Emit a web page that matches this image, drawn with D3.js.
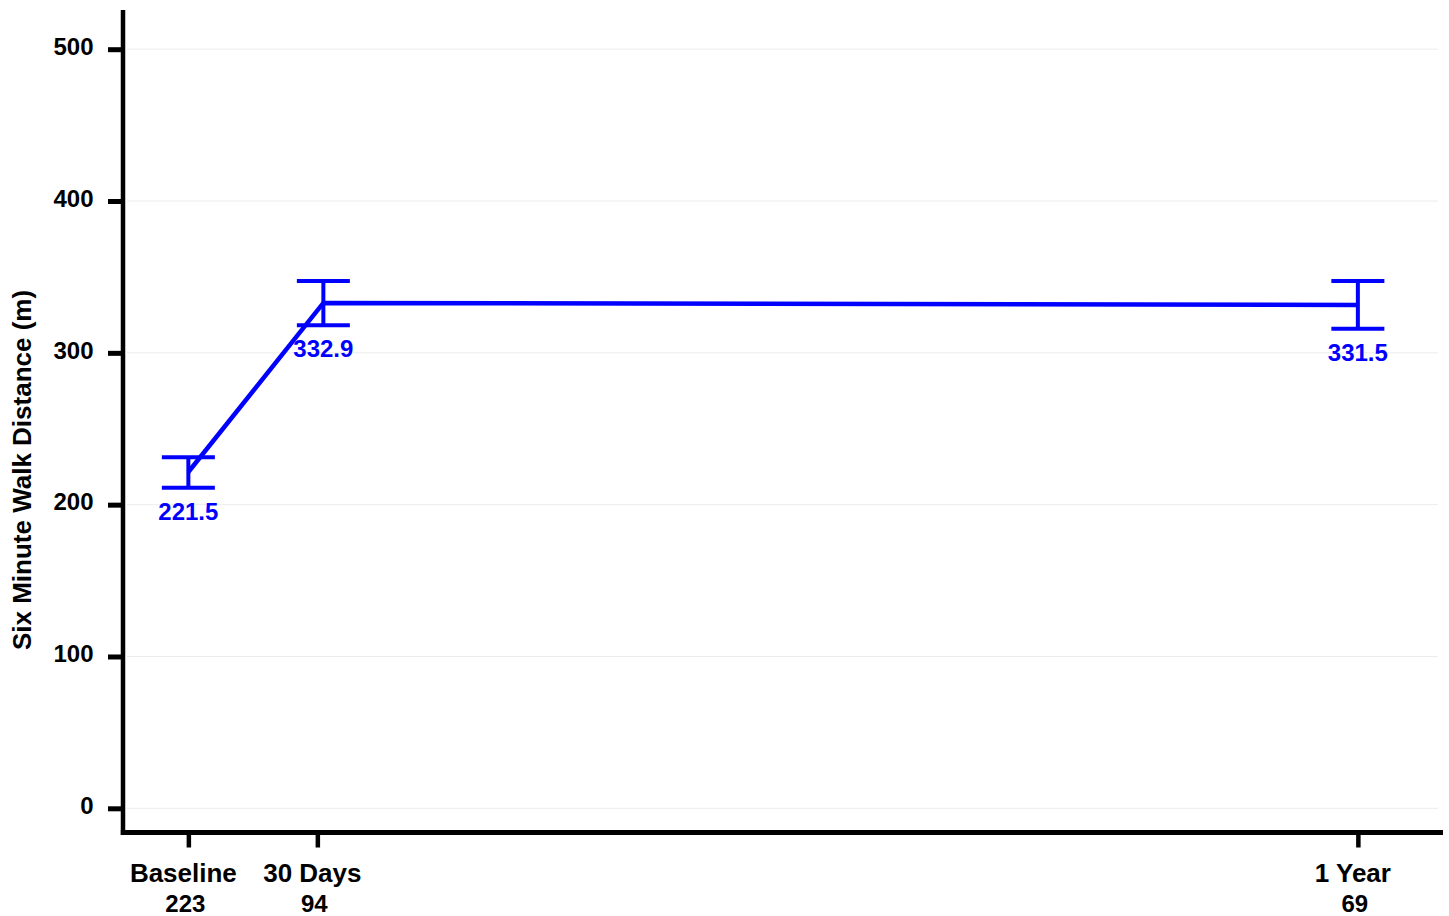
<!DOCTYPE html>
<html>
<head>
<meta charset="utf-8">
<script src="https://cdn.jsdelivr.net/npm/d3@7"></script>
<style>
  html, body { margin: 0; padding: 0; background: #fff; }
  svg { display: block; font-family: "Liberation Sans", Arial, sans-serif; font-weight: bold; }
</style>
</head>
<body>
<svg id="chart" width="1449" height="916"></svg>
<script>
// ---- data ----
const timepoints = ["Baseline", "30 Days", "1 Year"];
const counts = ["223", "94", "69"];
const tickDays = [0, 30, 272];          // plotted axis position of each time point
const pointDays = [0, 31.4, 272];       // plotted position of each mean
const means = [221.5, 332.9, 331.5];
const upper = [231.2, 347.4, 347.4];
const lower = [211.1, 318.2, 315.8];
const meanLabels = ["221.5", "332.9", "331.5"];
const yTicks = [0, 100, 200, 300, 400, 500];

// ---- layout ----
const svg = d3.select("#chart");
const axisX = 123, axisY = 832.5, plotRight = 1443, plotTop = 10;
const x = d3.scaleLinear().domain([-15.2, 291.8]).range([axisX, plotRight]);
const y = d3.scaleLinear().domain([0, 500]).range([808.3, 49.2]);
const blue = "#0000ff";

// gridlines
svg.append("g").selectAll("line").data(yTicks).join("line")
  .attr("x1", 127).attr("x2", 1438)
  .attr("y1", d => y(d)).attr("y2", d => y(d))
  .attr("stroke", "#ececec").attr("stroke-width", 1);

// y axis
const yAxis = svg.append("g").attr("transform", `translate(${axisX},0)`)
  .call(d3.axisLeft(y).tickValues(yTicks).tickSize(15).tickSizeOuter(0).tickPadding(14));
yAxis.select(".domain").remove();
yAxis.selectAll(".tick line").attr("stroke", "#000").attr("stroke-width", 5);
yAxis.selectAll(".tick text").attr("font-size", 24).attr("font-weight", "bold")
  .attr("fill", "#000").attr("font-family", "Liberation Sans, Arial, sans-serif")
  .attr("dy", "0.22em").attr("x", -29.5);
svg.append("line").attr("x1", axisX).attr("x2", axisX).attr("y1", plotTop).attr("y2", axisY + 2.5)
  .attr("stroke", "#000").attr("stroke-width", 4.5);

// x axis
const xAxis = svg.append("g").attr("transform", `translate(0,${axisY})`)
  .call(d3.axisBottom(x).tickValues(tickDays).tickSize(15).tickSizeOuter(0).tickFormat(() => ""));
xAxis.select(".domain").remove();
xAxis.selectAll(".tick line").attr("stroke", "#000").attr("stroke-width", 4.5);
svg.append("line").attr("x1", axisX - 2.2).attr("x2", plotRight).attr("y1", axisY).attr("y2", axisY)
  .attr("stroke", "#000").attr("stroke-width", 5);

// x tick labels (two lines)
const xl = svg.append("g").selectAll("text").data(timepoints).join("text")
  .attr("text-anchor", "middle").attr("fill", "#000");
xl.append("tspan").attr("font-size", 26).attr("x", (d, i) => x(tickDays[i]) - 5).attr("y", 882).text(d => d);
xl.append("tspan").attr("font-size", 24).attr("x", (d, i) => x(tickDays[i]) - 3).attr("y", 912).text((d, i) => counts[i]);

// y axis title
svg.append("text")
  .attr("transform", "translate(31,470) rotate(-90)")
  .attr("text-anchor", "middle").attr("font-size", 26).attr("fill", "#000")
  .text("Six Minute Walk Distance (m)");

// connecting line
const line = d3.line().x((d, i) => x(pointDays[i])).y(d => y(d));
svg.append("path").attr("d", line(means)).attr("fill", "none")
  .attr("stroke", blue).attr("stroke-width", 4.5);

// error bars
const eb = svg.append("g").selectAll("g").data(means).join("g");
eb.append("line")
  .attr("x1", (d, i) => x(pointDays[i])).attr("x2", (d, i) => x(pointDays[i]))
  .attr("y1", (d, i) => y(upper[i])).attr("y2", (d, i) => y(lower[i]))
  .attr("stroke", blue).attr("stroke-width", 4);
eb.append("line")
  .attr("x1", (d, i) => x(pointDays[i]) - 26.5).attr("x2", (d, i) => x(pointDays[i]) + 26.5)
  .attr("y1", (d, i) => y(upper[i])).attr("y2", (d, i) => y(upper[i]))
  .attr("stroke", blue).attr("stroke-width", 4);
eb.append("line")
  .attr("x1", (d, i) => x(pointDays[i]) - 26.5).attr("x2", (d, i) => x(pointDays[i]) + 26.5)
  .attr("y1", (d, i) => y(lower[i])).attr("y2", (d, i) => y(lower[i]))
  .attr("stroke", blue).attr("stroke-width", 4);

// mean labels
svg.append("g").selectAll("text").data(meanLabels).join("text")
  .attr("x", (d, i) => x(pointDays[i]))
  .attr("y", (d, i) => y(lower[i]) + 32)
  .attr("text-anchor", "middle").attr("font-size", 24).attr("fill", blue)
  .text(d => d);
</script>
</body>
</html>
